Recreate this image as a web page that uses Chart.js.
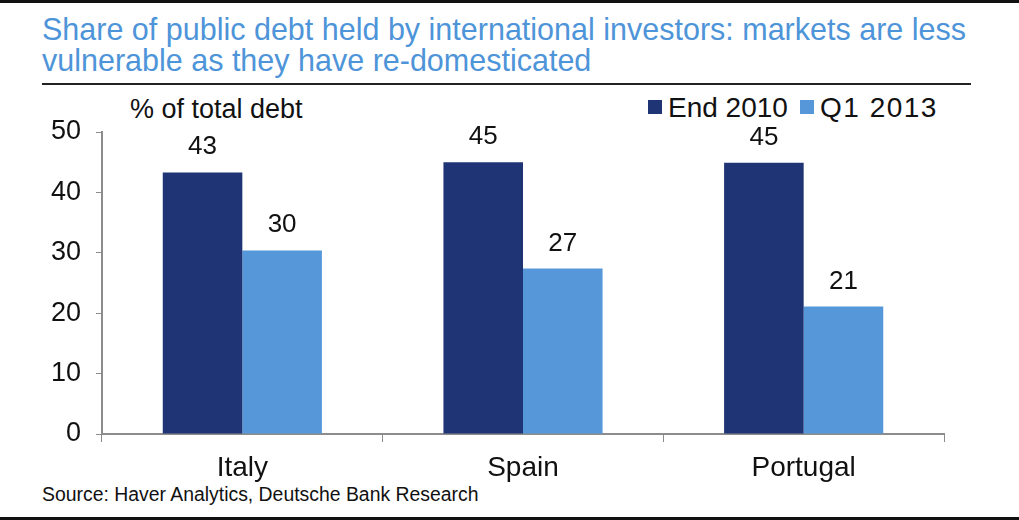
<!DOCTYPE html>
<html>
<head>
<meta charset="utf-8">
<script src="https://cdn.jsdelivr.net/npm/chart.js@4"></script>
<style>
  html, body { margin: 0; padding: 0; background: #fff; }
  body { width: 1019px; height: 520px; position: relative; overflow: hidden; font-family: "Liberation Sans", Arial, sans-serif; color: #111; }
  .band { position: absolute; left: 0; width: 1019px; background: #111; }
  .txt { position: absolute; white-space: nowrap; line-height: 1; }
  #title { position: absolute; left: 42px; top: 14px; color: #4e94d9; font-size: 30.5px; line-height: 31px; white-space: nowrap; }
  #rule { position: absolute; left: 42px; top: 83px; width: 929px; height: 2px; background: #222; }
  .box { position: absolute; width: 14px; height: 14px; top: 100px; }
  canvas { position: absolute; left: 0; top: 0; }
</style>
</head>
<body>
<div class="band" style="top:0;height:3px"></div>
<div class="band" style="bottom:0;height:3px"></div>
<div id="title">Share of public debt held by international investors: markets are less<br>vulnerable as they have re-domesticated</div>
<div id="rule"></div>
<div class="txt" style="left:130px;top:95.5px;font-size:27px">% of total debt</div>
<div class="box" style="left:648px;background:#1f3474"></div>
<div class="txt" style="left:668px;top:94px;font-size:28px">End 2010</div>
<div class="box" style="left:800px;background:#5597d9"></div>
<div class="txt" style="left:820px;top:94px;font-size:28px;letter-spacing:1.5px">Q1 2013</div>
<div class="txt" style="left:42px;top:485px;font-size:19.4px">Source: Haver Analytics, Deutsche Bank Research</div>
<canvas id="debtChart" width="1019" height="520"></canvas>
<script>
// Share of public debt held by international investors (% of total debt)
const paises = ["Italy", "Spain", "Portugal"];
const end2010 = [43.3, 45.0, 44.9];
const q12013 = [30.4, 27.4, 21.1];
const ticksY = [0, 10, 20, 30, 40, 50];

const corEscura = "#1f3474";
const corClara = "#5597d9";
const fonte = "'Liberation Sans', Arial, sans-serif";

// rótulos em cima das barras
const rotulos = {
    id: "rotulos",
    afterDatasetsDraw(chart) {
        const ctx = chart.ctx;
        ctx.save();
        ctx.font = "26px " + fonte;
        ctx.fillStyle = "#111";
        ctx.textAlign = "center";
        ctx.textBaseline = "alphabetic";
        chart.data.datasets.forEach((ds, i) => {
            chart.getDatasetMeta(i).data.forEach((bar, j) => {
                ctx.fillText(Math.round(ds.data[j]), bar.x, bar.y - 18);
            });
        });
        ctx.restore();
    }
};

new Chart(document.getElementById("debtChart"), {
    type: "bar",
    data: {
        labels: paises,
        datasets: [
            { label: "End 2010", data: end2010, backgroundColor: corEscura },
            { label: "Q1 2013", data: q12013, backgroundColor: corClara },
        ],
    },
    options: {
        responsive: false,
        animation: false,
        layout: { padding: { top: 132, right: 75, bottom: 26, left: 0 } },
        datasets: { bar: { categoryPercentage: 0.567, barPercentage: 1.0 } },
        plugins: {
            legend: { display: false },
            tooltip: { enabled: false },
        },
        scales: {
            x: {
                afterFit: (s) => { s.height = 60; },
                grid: { drawOnChartArea: false, drawTicks: true, tickLength: 8, color: "#8c8c8c", offset: true },
                border: { display: true, color: "#8c8c8c", width: 2 },
                ticks: { color: "#111", font: { family: fonte, size: 28 }, padding: 9 },
            },
            y: {
                min: 0,
                max: 50,
                afterFit: (s) => { s.width = 102; },
                afterBuildTicks: (s) => { s.ticks = ticksY.map((v) => ({ value: v })); },
                grid: { drawOnChartArea: false, drawTicks: true, tickLength: 6, color: "#8c8c8c" },
                border: { display: true, color: "#8c8c8c", width: 2 },
                ticks: { color: "#111", font: { family: fonte, size: 27 }, padding: 15 },
            },
        },
    },
    plugins: [rotulos],
});
</script>
</body>
</html>
